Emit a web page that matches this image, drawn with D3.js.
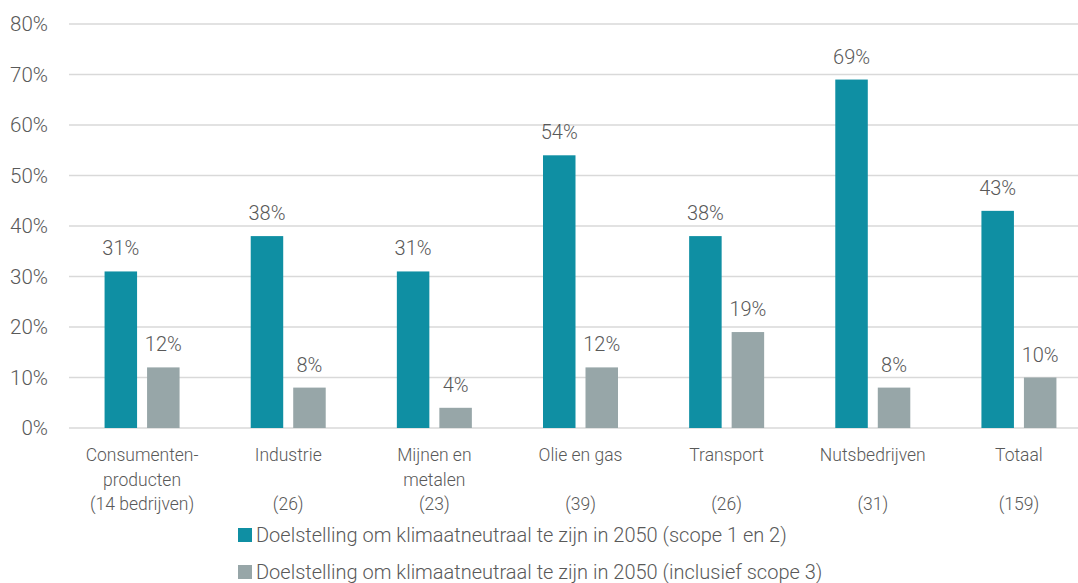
<!DOCTYPE html>
<html>
<head>
<meta charset="utf-8">
<script src="https://cdn.jsdelivr.net/npm/d3@7"></script>
<style>
  body { margin: 0; background: #fff; }
  svg { display: block; font-family: Roboto, "Noto Sans", sans-serif; font-weight: 300; }
  .tick-label, .cat-label, .value-label, .legend-label { fill: #595959; }
  .tick-label { font-size: 20.5px; }
  .value-label { font-size: 20px; }
  .cat-label { font-size: 17.5px; }
  .legend-label { font-size: 20px; }
  .grid { stroke: #d9d9d9; stroke-width: 1.5; }
</style>
</head>
<body>
<div class="chart"></div>
<script>
var width = 1078, height = 583;

// categories, each as its lines of label text
var categories = [
  ["Consumenten-", "producten", "(14 bedrijven)"],
  ["Industrie", "", "(26)"],
  ["Mijnen en", "metalen", "(23)"],
  ["Olie en gas", "", "(39)"],
  ["Transport", "", "(26)"],
  ["Nutsbedrijven", "", "(31)"],
  ["Totaal", "", "(159)"]
];

var scope12 = [31, 38, 31, 54, 38, 69, 43];
var scope3 = [12, 8, 4, 12, 19, 8, 10];

var seriesNames = [
  "Doelstelling om klimaatneutraal te zijn in 2050 (scope 1 en 2)",
  "Doelstelling om klimaatneutraal te zijn in 2050 (inclusief scope 3)"
];
var seriesColors = ["#0f8fa3", "#97a6a8"];

var yTicks = [0, 10, 20, 30, 40, 50, 60, 70, 80];

var svg = d3.select(".chart").append("svg")
    .attr("width", width)
    .attr("height", height);

// plot runs past the right edge of the picture, like the original
var x = d3.scaleBand()
    .domain(d3.range(categories.length))
    .range([69, 1092]);

var y = d3.scaleLinear()
    .domain([0, 80])
    .range([428, 24]);

var barW = 32.5, barGap = 10;

// gridlines
svg.selectAll(".grid")
    .data(yTicks)
  .enter().append("line")
    .attr("class", "grid")
    .attr("x1", 69)
    .attr("x2", width)
    .attr("y1", function(d){ return y(d); })
    .attr("y2", function(d){ return y(d); });

svg.selectAll(".tick-label")
    .data(yTicks)
  .enter().append("text")
    .attr("class", "tick-label")
    .attr("x", 48)
    .attr("y", function(d){ return y(d); })
    .attr("dy", "0.36em")
    .style("text-anchor", "end")
    .text(function(d){ return d + "%"; });

// bars
var series = [scope12, scope3];
series.forEach(function(values, s){
  var offset = s == 0 ? -barGap / 2 - barW : barGap / 2;

  svg.selectAll(".bar.s" + s)
      .data(values)
    .enter().append("rect")
      .attr("class", "bar s" + s)
      .attr("x", function(d, i){ return x(i) + x.bandwidth() / 2 + offset; })
      .attr("y", function(d){ return y(d); })
      .attr("width", barW)
      .attr("height", function(d){ return y(0) - y(d); })
      .attr("fill", seriesColors[s]);

  svg.selectAll(".value-label.s" + s)
      .data(values)
    .enter().append("text")
      .attr("class", "value-label s" + s)
      .attr("x", function(d, i){ return x(i) + x.bandwidth() / 2 + offset + barW / 2; })
      .attr("y", function(d){ return y(d) - 16; })
      .style("text-anchor", "middle")
      .text(function(d){ return d + "%"; });
});

// category labels
var cat = svg.selectAll(".cat-label")
    .data(categories)
  .enter().append("text")
    .attr("class", "cat-label")
    .attr("transform", function(d, i){ return "translate(" + (x(i) + x.bandwidth() / 2) + ",461)"; })
    .style("text-anchor", "middle");

cat.selectAll("tspan")
    .data(function(d){ return d; })
  .enter().append("tspan")
    .attr("x", 0)
    .attr("y", function(d, i){ return i * 24.5; })
    .text(function(d){ return d; });

// legend
var legend = svg.selectAll(".legend")
    .data(seriesNames)
  .enter().append("g")
    .attr("class", "legend")
    .attr("transform", function(d, i){ return "translate(238," + (535 + i * 37) + ")"; });

legend.append("rect")
    .attr("x", 0)
    .attr("y", -7)
    .attr("width", 14)
    .attr("height", 14)
    .attr("fill", function(d, i){ return seriesColors[i]; });

legend.append("text")
    .attr("class", "legend-label")
    .attr("x", 18)
    .attr("dy", "0.36em")
    .text(function(d){ return d; });
</script>
</body>
</html>
